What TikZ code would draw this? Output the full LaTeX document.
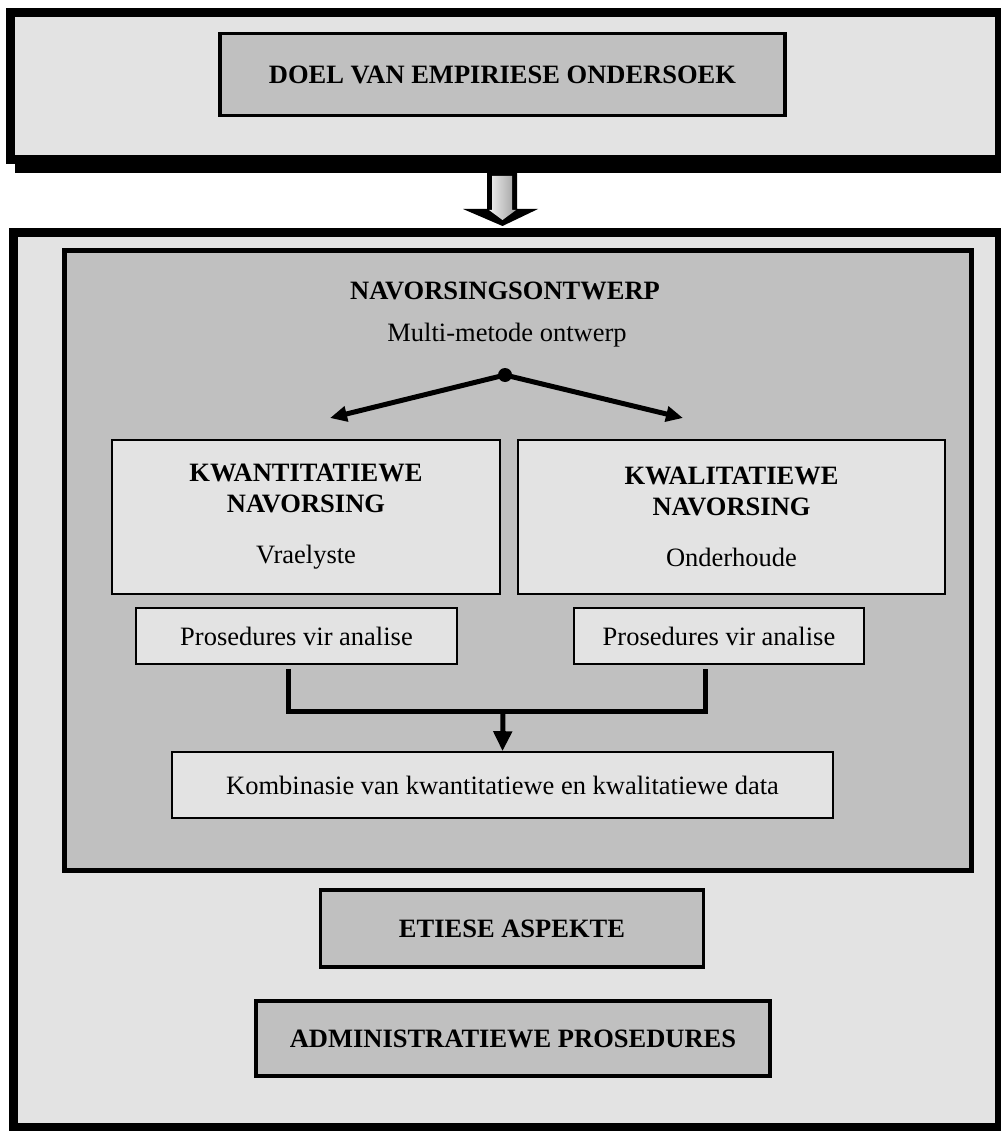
\documentclass[tikz,border=0pt]{standalone}
\usepackage{fontspec}
\setmainfont{Liberation Serif}
\usetikzlibrary{arrows.meta,calc}
\definecolor{panel}{HTML}{E3E3E3}
\definecolor{shade}{HTML}{C0C0C0}
\definecolor{arrowlight}{HTML}{F0F0F0}
\definecolor{arrowdark}{HTML}{A0A0A0}

\begin{document}
\begin{tikzpicture}[x=1pt,y=-1pt,
  font=\fontsize{26.5}{31}\selectfont,
  frame/.style={draw, line width=9pt, fill=panel, inner sep=0pt},
  inner frame/.style={draw, line width=5pt, fill=shade, inner sep=0pt},
  heavybox/.style={draw, line width=3.5pt, fill=shade, inner sep=0pt, font=\fontsize{26.5}{31}\selectfont\bfseries},
  lightbox/.style={draw, line width=1.6pt, fill=panel, inner sep=0pt, align=center},
  label/.style={inner sep=0pt},
  link/.style={line width=5pt},
  tip/.style={-{Triangle[length=17pt,width=15pt]}},
]
\useasboundingbox (0,0) rectangle (1000,1131);

% upper panel with its offset shadow
\fill[black] (15,17) rectangle (1012,173);
\node[frame, minimum width=989pt, minimum height=147.5pt] (upper) at (505,86.25) {};
\node[heavybox, minimum width=565pt, minimum height=82pt] (doel) at (502.5,74.5) {DOEL VAN EMPIRIESE ONDERSOEK};

% lower panel
\node[frame, minimum width=986pt, minimum height=895pt] (lower) at (506.5,680) {};

% block arrow between the panels: black body, shaded core
\coordinate (bapex) at (502.5,226);
\fill[black] (487,173) -- (517,173) -- (517,209) -- (538,209) -- (bapex) -- (463,209) -- (487,209) -- cycle;
\shade[left color=arrowlight, right color=arrowdark] (492,176) -- (512,176) -- (512,210) -- (516,210) -- (502.5,220) -- (489,210) -- (492,210) -- cycle;

% research design block
\node[inner frame, minimum width=907pt, minimum height=619pt] (design) at (517.5,560.5) {};
\node[label, font=\fontsize{26.5}{31}\selectfont\bfseries] (title) at (505,291) {NAVORSINGSONTWERP};
\node[label] (multi) at (507,335) {Multi-metode ontwerp};

\coordinate (split) at (505,375);
\coordinate (lefttip) at (330,418);
\coordinate (righttip) at (683,418);
\draw[link, tip] (split) -- (lefttip);
\draw[link, tip] (split) -- (righttip);
\fill (split) circle (7);

\node[lightbox, minimum width=388pt, minimum height=154pt] (kwant) at (306,517)
  {\textbf{KWANTITATIEWE}\\\textbf{NAVORSING}\\[20pt]Vraelyste};
\node[lightbox, minimum width=427pt, minimum height=154pt] (kwal) at (731.5,517)
  {\textbf{KWALITATIEWE}\\\textbf{NAVORSING}\\[20pt]Onderhoude};

\node[lightbox, minimum width=321pt, minimum height=56pt] (lp) at (296.5,636) {Prosedures vir analise};
\node[lightbox, minimum width=290pt, minimum height=56pt] (rp) at (719,636) {Prosedures vir analise};

\node[lightbox, minimum width=661pt, minimum height=66pt] (komb) at (502.5,785)
  {Kombinasie van kwantitatiewe en kwalitatiewe data};

% joining bracket and arrow into the combination step
\draw[link] ([xshift=-8.5pt,yshift=-4pt]lp.south) -- ++(0,43) -| ([xshift=-14pt,yshift=-4pt]rp.south);
\coordinate (merge) at (503,711);
\draw[link, -{Triangle[length=20pt,width=18pt]}] (merge) -- (komb.north);

% closing items
\node[heavybox, minimum width=383pt, minimum height=77pt] (etiek) at (512,928.5) {ETIESE ASPEKTE};
\node[heavybox, minimum width=514pt, minimum height=75pt] (admin) at (513,1038.5) {ADMINISTRATIEWE PROSEDURES};
\end{tikzpicture}
\end{document}
